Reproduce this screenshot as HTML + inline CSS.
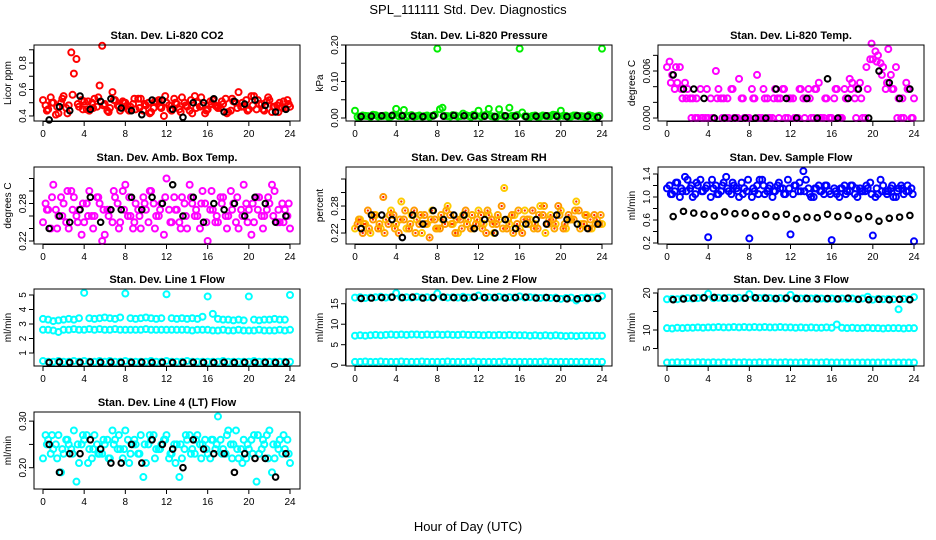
<!DOCTYPE html>
<html><head><meta charset="utf-8"><style>
html,body{margin:0;padding:0;background:#fff}
svg{display:block;font-family:"Liberation Sans",sans-serif}
</style></head><body>
<svg id="chart" width="936" height="540" viewBox="0 0 936 540" xmlns="http://www.w3.org/2000/svg">
<text x="468" y="14" text-anchor="middle" font-size="13">SPL_111111  Std. Dev. Diagnostics</text>
<text x="468" y="531" text-anchor="middle" font-size="13">Hour of Day (UTC)</text>
</svg>
<script>
// ---- data ----
const co2A=[0.52,0.45,0.50,0.42,0.55,0.48,0.72,0.47,0.51,0.44,0.53,0.63,0.49,0.46,0.52,0.44,0.50,0.47,0.45,0.53,0.48,0.43,0.51,0.46,0.50,0.44,0.49,0.54,0.47,0.42,0.50,0.48,0.45,0.52,0.46,0.49,0.43,0.51,0.58,0.47,0.45,0.55,0.49,0.44,0.52,0.47,0.50,0.46,0.47];
const co2B=[0.48,0.54,0.41,0.50,0.46,0.88,0.83,0.52,0.45,0.50,0.47,0.93,0.44,0.58,0.48,0.51,0.45,0.49,0.53,0.44,0.50,0.46,0.52,0.40,0.48,0.53,0.45,0.50,0.44,0.55,0.47,0.42,0.51,0.48,0.46,0.53,0.44,0.50,0.47,0.52,0.55,0.45,0.49,0.51,0.43,0.48,0.46,0.52];
const co2C=[0.44,0.50,0.47,0.53,0.42,0.56,0.49,0.45,0.51,0.46,0.54,0.48,0.43,0.52,0.47,0.50,0.44,0.53,0.46,0.49,0.42,0.51,0.47,0.55,0.45,0.50,0.43,0.48,0.52,0.46,0.54,0.44,0.49,0.47,0.51,0.42,0.53,0.46,0.50,0.44,0.48,0.52,0.45,0.54,0.47,0.43,0.51,0.49];
const co2K=[0.37,0.47,0.44,0.55,0.45,0.51,0.53,0.46,0.44,0.41,0.52,0.52,0.45,0.39,0.50,0.50,0.53,0.43,0.51,0.49,0.52,0.48,0.43,0.45];
const presA=[0.02,0.004,0.006,0.003,0.008,0.005,0.007,0.004,0.025,0.006,0.003,0.008,0.005,0.004,0.007,0.006,0.19,0.028,0.005,0.008,0.004,0.012,0.006,0.009,0.02,0.007,0.025,0.004,0.024,0.005,0.028,0.006,0.19,0.005,0.003,0.007,0.004,0.006,0.005,0.008,0.02,0.006,0.004,0.007,0.005,0.003,0.006,0.004,0.19];
const presB=[0.003,0.007,0.005,0.009,0.004,0.006,0.003,0.008,0.005,0.022,0.006,0.004,0.007,0.005,0.003,0.009,0.024,0.006,0.004,0.007,0.005,0.008,0.003,0.006,0.004,0.009,0.005,0.003,0.007,0.004,0.006,0.008,0.015,0.004,0.006,0.003,0.007,0.005,0.009,0.004,0.006,0.003,0.007,0.005,0.004,0.008,0.003,0.006];
const presK=[0.004,0.005,0.006,0.007,0.006,0.005,0.004,0.006,0.005,0.007,0.006,0.006,0.005,0.004,0.006,0.005,0.004,0.005,0.006,0.005,0.004,0.006,0.005,0.002];
const tempA=[0.0065,0.0055,0.0045,0.0025,0.0037,0.0025,0,0,0,0,0.0037,0.0025,0,0,0.005,0,0,0.0025,0,0.0025,0,0.0037,0.0025,0,0.0025,0,0.0037,0.0025,0,0.0037,0,0.0025,0,0.0037,0,0.0025,0.0045,0.0037,0,0.0037,0.0075,0.008,0.0065,0.0088,0.0037,0.0025,0,0.0037,0.0025];
const tempB=[0.0072,0.0037,0.0065,0.0045,0.0025,0,0.0037,0,0.0025,0.006,0.0025,0,0.0037,0,0.0025,0,0.0037,0.0055,0,0.0025,0,0.0025,0.0037,0,0.0025,0,0.0025,0.0037,0,0.0045,0,0,0.0025,0,0.0037,0.005,0.0025,0.0045,0,0.0075,0.0085,0.007,0.0037,0.0055,0.0065,0,0.0045,0];
const tempC=[0.0045,0.0065,0.0037,0.0025,0,0.0025,0,0.0037,0,0.0025,0,0.0025,0.0037,0,0.0025,0,0.0025,0,0.0037,0,0.0025,0,0.0037,0.0025,0,0.0037,0,0.0025,0.0037,0,0.0025,0,0.0037,0,0.0025,0.0037,0,0.0025,0.0065,0.0095,0.0072,0.0055,0.0045,0.0037,0,0.0025,0.0037,0];
const tempK=[0.0055,0.0037,0.0037,0.0025,0,0,0,0,0,0,0.0037,0.0025,0,0.0025,0,0.005,0,0.0025,0.0037,0,0.006,0.0045,0.0025,0.0037];
const ambA=[0.25,0.27,0.31,0.26,0.28,0.24,0.29,0.27,0.25,0.30,0.26,0.28,0.23,0.27,0.29,0.25,0.31,0.26,0.28,0.24,0.27,0.30,0.26,0.28,0.32,0.25,0.27,0.29,0.24,0.28,0.26,0.30,0.22,0.27,0.25,0.29,0.26,0.28,0.24,0.31,0.27,0.25,0.29,0.26,0.28,0.30,0.25,0.27,0.24];
const ambB=[0.28,0.24,0.27,0.29,0.25,0.30,0.26,0.23,0.28,0.26,0.29,0.22,0.27,0.25,0.28,0.30,0.26,0.24,0.27,0.29,0.25,0.28,0.26,0.23,0.27,0.29,0.25,0.28,0.31,0.26,0.24,0.28,0.27,0.25,0.29,0.26,0.30,0.25,0.27,0.28,0.23,0.29,0.26,0.27,0.31,0.25,0.28,0.26];
const ambC=[0.27,0.29,0.24,0.26,0.30,0.27,0.25,0.28,0.26,0.24,0.29,0.27,0.26,0.30,0.24,0.27,0.29,0.25,0.26,0.28,0.30,0.24,0.27,0.29,0.25,0.27,0.24,0.26,0.29,0.27,0.28,0.25,0.30,0.26,0.28,0.24,0.27,0.29,0.26,0.25,0.28,0.27,0.24,0.29,0.26,0.27,0.25,0.28];
const ambK=[0.24,0.26,0.25,0.27,0.29,0.25,0.27,0.27,0.29,0.27,0.29,0.28,0.31,0.26,0.29,0.25,0.28,0.27,0.28,0.26,0.29,0.28,0.25,0.26];
const rhA=[0.23,0.25,0.24,0.22,0.26,0.23,0.25,0.27,0.24,0.29,0.23,0.26,0.25,0.22,0.24,0.27,0.23,0.25,0.28,0.24,0.22,0.26,0.25,0.23,0.27,0.24,0.26,0.22,0.25,0.32,0.24,0.26,0.23,0.27,0.25,0.24,0.28,0.22,0.26,0.24,0.27,0.23,0.25,0.29,0.24,0.26,0.23,0.25,0.24];
const rhB=[0.24,0.22,0.27,0.25,0.23,0.30,0.24,0.26,0.22,0.25,0.23,0.27,0.24,0.26,0.21,0.25,0.23,0.24,0.26,0.22,0.25,0.27,0.23,0.24,0.26,0.22,0.25,0.24,0.28,0.23,0.26,0.24,0.22,0.25,0.27,0.23,0.26,0.24,0.25,0.28,0.23,0.26,0.25,0.27,0.24,0.23,0.26,0.24];
const rhC=[0.25,0.24,0.23,0.26,0.24,0.22,0.26,0.23,0.25,0.27,0.24,0.22,0.26,0.24,0.25,0.23,0.26,0.27,0.24,0.25,0.23,0.24,0.26,0.25,0.23,0.27,0.24,0.26,0.23,0.25,0.22,0.27,0.25,0.24,0.23,0.26,0.28,0.25,0.23,0.26,0.24,0.25,0.27,0.23,0.26,0.25,0.24,0.26];
const rhK=[0.23,0.26,0.26,0.25,0.21,0.26,0.24,0.27,0.25,0.26,0.26,0.23,0.25,0.22,0.25,0.23,0.24,0.25,0.24,0.26,0.25,0.24,0.23,0.24];
const sfA=[1.15,1.05,1.25,1.1,1.3,1.0,1.2,1.1,0.3,1.15,1.05,1.25,1.1,1.2,1.0,1.15,0.28,1.1,1.3,1.05,1.2,1.1,1.15,1.05,0.35,1.2,1.1,1.3,1.0,1.15,1.1,1.2,0.25,1.05,1.15,1.1,1.2,1.0,1.1,1.15,0.33,1.05,1.2,1.1,1.0,1.15,1.05,1.1,0.23];
const sfB=[1.2,1.1,1.0,1.35,1.15,1.05,1.3,1.15,1.0,1.2,1.1,1.35,1.05,1.15,1.25,1.1,1.0,1.2,1.3,1.1,1.0,1.2,1.15,1.3,1.05,1.1,1.45,1.15,1.0,1.2,1.05,1.1,1.15,1.0,1.2,1.1,1.05,1.15,1.1,1.25,1.0,1.3,1.1,1.15,1.0,1.2,1.1,1.15];
const sfC=[1.05,1.25,1.15,1.1,1.2,1.25,1.1,1.2,1.3,1.05,1.2,1.15,1.25,1.1,1.05,1.3,1.15,1.05,1.2,1.15,1.1,1.25,1.05,1.15,1.2,1.25,1.1,1.05,1.15,1.1,1.2,1.05,1.1,1.15,1.05,1.2,1.15,1.1,1.2,1.05,1.15,1.1,1.05,1.2,1.1,1.15,1.2,1.05];
const sfK=[0.66,0.75,0.72,0.70,0.67,0.74,0.71,0.72,0.67,0.70,0.66,0.70,0.62,0.65,0.64,0.70,0.66,0.68,0.62,0.66,0.58,0.63,0.65,0.68];
const l1Up=[3.35,3.3,3.2,3.25,3.3,3.35,3.3,3.4,5.15,3.4,3.35,3.4,3.45,3.4,3.35,3.45,5.1,3.4,3.35,3.4,3.45,3.4,3.35,3.4,5.05,3.4,3.35,3.4,3.35,3.4,3.35,3.5,4.9,3.7,3.35,3.3,3.3,3.25,3.3,3.25,4.9,3.3,3.25,3.3,3.3,3.35,3.3,3.3,5.0];
const l1Mid=[2.6,2.6,2.55,2.45,2.6,2.6,2.65,2.6,2.6,2.65,2.6,2.65,2.6,2.6,2.65,2.6,2.6,2.6,2.6,2.6,2.65,2.6,2.6,2.6,2.6,2.6,2.6,2.6,2.6,2.55,2.6,2.6,2.6,2.55,2.55,2.6,2.55,2.55,2.6,2.55,2.55,2.55,2.6,2.55,2.55,2.55,2.6,2.55,2.6];
const l1Low=[0.45,0.4,0.4,0.45,0.4,0.4,0.45,0.4,0.45,0.4,0.4,0.45,0.4,0.45,0.4,0.4,0.45,0.4,0.4,0.4,0.4,0.45,0.4,0.4,0.45,0.4,0.4,0.4,0.45,0.4,0.4,0.4,0.4,0.4,0.4,0.45,0.4,0.4,0.4,0.4,0.4,0.45,0.4,0.4,0.4,0.4,0.4,0.4,0.4];
const l1K=[0.35,0.38,0.35,0.36,0.38,0.36,0.37,0.35,0.36,0.37,0.35,0.36,0.35,0.35,0.36,0.35,0.35,0.36,0.35,0.36,0.35,0.36,0.35,0.37];
const l2Up=[16.5,16.6,16.4,16.5,16.6,16.7,16.5,16.6,17.6,16.5,16.6,16.5,16.7,16.5,16.6,16.5,17.5,16.6,16.5,16.6,16.5,16.7,16.5,16.6,17.0,16.5,16.6,16.5,16.7,16.5,16.6,16.5,16.8,16.5,16.6,16.5,16.4,16.5,16.4,16.5,16.2,16.4,16.5,15.8,16.4,16.5,16.5,16.6,16.9];
const l2Mid=[7.2,7.3,7.2,7.3,7.4,7.3,7.4,7.5,7.4,7.5,7.4,7.5,7.5,7.4,7.5,7.4,7.5,7.4,7.5,7.4,7.4,7.5,7.4,7.4,7.4,7.3,7.4,7.3,7.4,7.3,7.4,7.3,7.3,7.3,7.2,7.3,7.2,7.3,7.2,7.3,7.2,7.1,7.2,7.1,7.2,7.2,7.2,7.2,7.2];
const l2Low=[0.8,0.8,0.9,0.8,0.8,0.9,0.8,0.8,0.8,0.9,0.8,0.8,0.8,0.9,0.8,0.8,0.8,0.8,0.9,0.8,0.8,0.8,0.8,0.9,0.8,0.8,0.8,0.8,0.8,0.9,0.8,0.8,0.8,0.8,0.8,0.8,0.8,0.9,0.8,0.8,0.8,0.8,0.8,0.8,0.8,0.8,0.8,0.8,0.8];
const l2K=[16.3,16.4,16.5,16.6,16.5,16.6,16.4,16.5,16.6,16.5,16.4,16.6,16.5,16.5,16.4,16.5,16.6,16.4,16.5,16.3,16.2,16.2,16.3,16.3];
const l3Up=[18.3,18.4,18.3,18.5,18.6,18.5,18.6,18.7,19.8,18.6,18.7,18.6,18.7,18.6,18.7,18.6,19.7,18.7,18.6,18.7,18.6,18.5,18.6,18.5,19.5,18.6,18.5,18.6,18.5,18.6,18.5,18.4,18.5,18.4,18.5,18.4,18.5,18.3,18.5,19.0,18.2,18.4,18.3,18.4,18.3,15.6,18.4,18.3,18.9];
const l3Mid=[10.5,10.4,10.6,10.5,10.6,10.6,10.7,10.6,10.7,10.7,10.8,10.7,10.7,10.8,10.7,10.8,10.7,10.8,10.7,10.8,10.7,10.7,10.8,10.7,10.7,10.6,10.7,10.6,10.7,10.6,10.6,10.7,10.6,11.5,10.6,10.5,10.6,10.5,10.5,10.6,10.5,10.5,10.4,10.5,10.5,10.5,10.4,10.5,10.5];
const l3Low=[1.2,1.2,1.3,1.2,1.3,1.2,1.3,1.3,1.2,1.3,1.2,1.3,1.2,1.3,1.2,1.3,1.2,1.2,1.3,1.2,1.3,1.2,1.2,1.3,1.2,1.2,1.2,1.3,1.2,1.2,1.2,1.3,1.2,1.2,1.2,1.2,1.2,1.2,1.2,1.2,1.2,1.2,1.2,1.2,1.2,1.2,1.2,1.2,1.2];
const l3K=[18.2,18.4,18.6,18.7,18.8,18.6,18.5,18.6,18.7,18.6,18.5,18.6,18.5,18.5,18.4,18.5,18.4,18.6,18.3,18.2,18.3,18.2,18.3,18.2];
const l4A=[0.22,0.26,0.24,0.27,0.23,0.25,0.28,0.21,0.26,0.24,0.27,0.23,0.25,0.22,0.26,0.24,0.28,0.23,0.25,0.27,0.21,0.26,0.24,0.25,0.27,0.23,0.25,0.22,0.26,0.24,0.27,0.25,0.23,0.26,0.31,0.24,0.28,0.25,0.22,0.26,0.24,0.27,0.23,0.25,0.28,0.22,0.26,0.24,0.21];
const l4B=[0.27,0.23,0.25,0.19,0.26,0.24,0.17,0.25,0.27,0.22,0.25,0.23,0.26,0.28,0.24,0.22,0.26,0.25,0.23,0.18,0.25,0.27,0.24,0.26,0.22,0.25,0.18,0.24,0.27,0.23,0.25,0.26,0.22,0.24,0.26,0.23,0.25,0.28,0.24,0.22,0.26,0.17,0.24,0.27,0.19,0.25,0.23,0.26];
const l4C=[0.25,0.27,0.22,0.24,0.26,0.23,0.25,0.27,0.21,0.24,0.23,0.26,0.22,0.25,0.27,0.24,0.21,0.26,0.23,0.25,0.27,0.22,0.24,0.26,0.23,0.21,0.25,0.27,0.23,0.26,0.22,0.24,0.26,0.25,0.23,0.27,0.22,0.24,0.21,0.25,0.23,0.27,0.26,0.22,0.25,0.24,0.27,0.23];
const l4K=[0.25,0.19,0.23,0.23,0.26,0.24,0.21,0.21,0.25,0.21,0.26,0.25,0.24,0.20,0.26,0.24,0.23,0.23,0.19,0.23,0.22,0.22,0.18,0.23];

const svg=document.getElementById('chart');
const NS='http://www.w3.org/2000/svg';
const xTicks=[0,4,8,12,16,20,24];
const colX=[[34,300],[346,612],[658,924]];
const rowY=[[45,121],[167,244],[289,366],[412,489]];
function mk(tag,attrs,parent){const e=document.createElementNS(NS,tag);for(const k in attrs)e.setAttribute(k,attrs[k]);(parent||svg).appendChild(e);return e;}

const panels=[
 {name:'co2',title:'Stan. Dev. Li-820 CO2',ylab:'Licor ppm',c:0,r:0,ymin:0.362,ymax:0.936,ticks:[0.4,0.5,0.6,0.7,0.8,0.9],labels:['0.4','0.6','0.8'],fmt:1,series:[[co2A,'#ff0000',0],[co2B,'#ff0000',0.25],[co2C,'#ff0000',0.375],[co2K,'#000',-1]]},
 {name:'pressure',title:'Stan. Dev. Li-820 Pressure',ylab:'kPa',c:1,r:0,ymin:-0.0082,ymax:0.2,ticks:[0,0.05,0.1,0.15,0.2],labels:['0.00','0.10','0.20'],fmt:2,series:[[presA,'#00ee00',0],[presB,'#00ee00',0.25],[presK,'#000',-1]]},
 {name:'temp',title:'Stan. Dev. Li-820 Temp.',ylab:'degrees C',c:2,r:0,ymin:-0.00038,ymax:0.00932,ticks:[0,0.002,0.004,0.006,0.008],labels:['0.000','0.006'],fmt:3,series:[[tempA,'#ff00ff',0],[tempB,'#ff00ff',0.25],[tempC,'#ff00ff',0.375],[tempK,'#000',-1]]},
 {name:'amb-temp',title:'Stan. Dev. Amb. Box Temp.',ylab:'degrees C',c:0,r:1,ymin:0.2152,ymax:0.3384,ticks:[0.22,0.24,0.26,0.28,0.30,0.32],labels:['0.22','0.28'],fmt:2,series:[[ambA,'#ff00ff',0],[ambB,'#ff00ff',0.25],[ambC,'#ff00ff',0.375],[ambK,'#000',-1]]},
 {name:'rh',title:'Stan. Dev. Gas Stream RH',ylab:'percent',c:1,r:1,ymin:0.1956,ymax:0.3667,ticks:[0.22,0.25,0.28,0.31,0.34],labels:['0.22','0.28'],fmt:2,series:[[rhA,'#ffcc00',0,'#ff3300'],[rhB,'#ff9900',0.25,'#ff2200'],[rhC,'#ffaa00',0.375,'#ff3300'],[rhK,'#000',-1]]},
 {name:'sample-flow',title:'Stan. Dev. Sample Flow',ylab:'ml/min',c:2,r:1,ymin:0.1826,ymax:1.5217,ticks:[0.2,0.4,0.6,0.8,1.0,1.2,1.4],labels:['0.2','0.6','1.0','1.4'],fmt:1,series:[[sfA,'#0000ff',0],[sfB,'#0000ff',0.25],[sfC,'#0000ff',0.375],[sfK,'#000',-1]]},
 {name:'line1',title:'Stan. Dev. Line 1 Flow',ylab:'ml/min',c:0,r:2,ymin:0.103,ymax:5.414,ticks:[1,2,3,4,5],labels:['1','2','3','4','5'],fmt:0,series:[[l1Up,'#00ffff',0],[l1Mid,'#00ffff',0],[l1Low,'#00ffff',0],[l1K,'#000',-1]]},
 {name:'line2',title:'Stan. Dev. Line 2 Flow',ylab:'ml/min',c:1,r:2,ymin:-0.2,ymax:18.6,ticks:[0,5,10,15],labels:['0','5','10','15'],fmt:0,series:[[l2Up,'#00ffff',0],[l2Mid,'#00ffff',0],[l2Low,'#00ffff',0],[l2K,'#000',-1]]},
 {name:'line3',title:'Stan. Dev. Line 3 Flow',ylab:'ml/min',c:2,r:2,ymin:0.27,ymax:21.08,ticks:[5,10,15,20],labels:['5','10','20'],fmt:0,series:[[l3Up,'#00ffff',0],[l3Mid,'#00ffff',0],[l3Low,'#00ffff',0],[l3K,'#000',-1]]},
 {name:'line4',title:'Stan. Dev. Line 4 (LT) Flow',ylab:'ml/min',c:0,r:3,ymin:0.1543,ymax:0.3196,ticks:[0.20,0.25,0.30],labels:['0.20','0.30'],fmt:2,series:[[l4A,'#00ffff',0],[l4B,'#00ffff',0.25],[l4C,'#00ffff',0.375],[l4K,'#000',-1]]}
];

panels.forEach(p=>{
  const [x0,x1]=colX[p.c],[y0,y1]=rowY[p.r];
  const g=mk('g',{});
  
  
  const xs=h=>x0+9+h*(x1-x0-19)/24;
  const ys=v=>y1-(v-p.ymin)/(p.ymax-p.ymin)*(y1-y0);
  const t=mk('text',{x:(x0+x1)/2,y:y0-6,'text-anchor':'middle','font-size':11,'font-weight':'bold'},g);
  t.textContent=p.title;
  
  
  const yl=mk('text',{transform:`translate(${x0-23},${(y0+y1)/2}) rotate(-90)`,'text-anchor':'middle','font-size':10},g);
  yl.textContent=p.ylab;
  
  
  const xa=mk('g',{stroke:'#000','stroke-width':1},g);
  
  
  mk('line',{x1:xs(0),x2:xs(24),y1:y1+0.5,y2:y1+0.5},xa);
  xTicks.forEach(h=>{
    mk('line',{x1:xs(h),x2:xs(h),y1:y1,y2:y1+5},xa);
    const tl=mk('text',{x:xs(h),y:y1+16,'text-anchor':'middle','font-size':10,stroke:'none',fill:'#000'},xa);
    tl.textContent=h;
    
    
  });
  const ya=mk('g',{stroke:'#000','stroke-width':1},g);
  
  
  mk('line',{x1:x0-0.5,x2:x0-0.5,y1:ys(p.ticks[0]),y2:ys(p.ticks[p.ticks.length-1])},ya);
  p.ticks.forEach(v=>{
    const yy=ys(v);
    mk('line',{x1:x0-5,x2:x0,y1:yy,y2:yy},ya);
    const s=v.toFixed(p.fmt);
    if(p.labels.includes(s)){
      const tl=mk('text',{transform:`translate(${x0-8},${yy}) rotate(-90)`,'text-anchor':'middle','font-size':10,stroke:'none',fill:'#000'},ya);
      tl.textContent=s;
      
      
    }
  });
  p.series.forEach((s,si)=>{
    const [vals,col,off,inner]=s;
    const sg=mk('g',{fill:'none',stroke:col,'stroke-width':off<0?2:2},g);
    
    
    vals.forEach((v,i)=>{
      const h=off<0?i+0.6:i*0.5+off;
      const c=mk('circle',{cx:xs(h),cy:ys(v),r:off<0?2.8:3},sg);
      
      
      if(inner){const d=mk('circle',{cx:xs(h),cy:ys(v),r:1.2,fill:inner,stroke:'none'},sg);
        
        }
    });
  });
  const box=mk('rect',{x:x0,y:y0,width:x1-x0,height:y1-y0,fill:'none',stroke:'#000','stroke-width':1},g);
  
  
});
</script>
</body></html>
